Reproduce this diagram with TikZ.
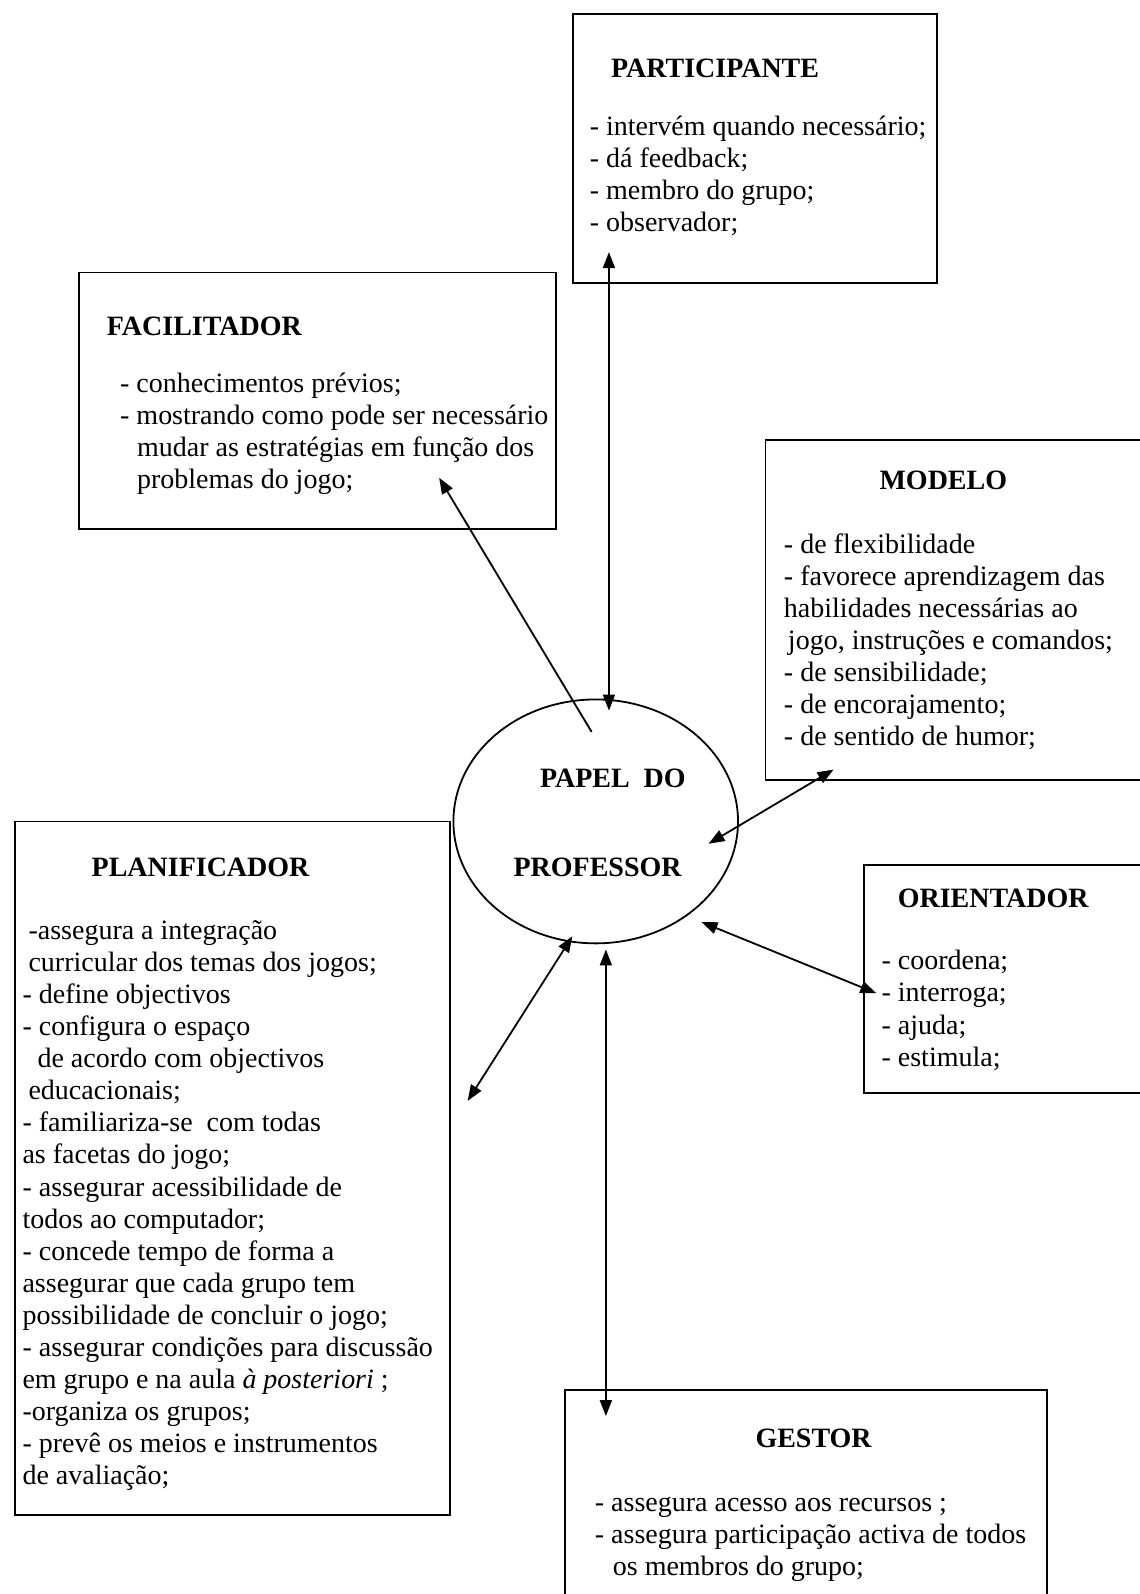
\documentclass[tikz,border=0pt]{standalone}
\usepackage{fontspec}
\setmainfont{Liberation Serif}
\usetikzlibrary{shapes.geometric, arrows.meta, fit}

% stacked text lines sharing one baseline grid; the node's baseline is the first line's
\newcommand\linesof[1]{\vtop{\baselineskip=32.1pt\lineskiplimit=-100pt\lineskip=0pt\halign{##\hfil\cr#1\crcr}}}

\begin{document}
\begin{tikzpicture}[x=1.016949pt, y=-1.016949pt,
  frame/.style={draw, line width=1.8pt, inner sep=0pt},
  title/.style={anchor=base west, inner sep=0pt, font=\fontsize{28pt}{32.1pt}\selectfont\bfseries},
  items/.style={anchor=base west, inner sep=0pt, font=\fontsize{28pt}{32.1pt}\selectfont},
  tip/.tip={Triangle[length=16pt,width=12pt]},
  link/.style={line width=1.8pt, -tip},
  link2/.style={line width=1.8pt, tip-tip},
]
\useasboundingbox[fill=white] (0,0) rectangle (1121,1568);

% central role
\node[ellipse, draw, line width=1.8pt, minimum width=284.7pt, minimum height=244pt, inner sep=0pt] (prof) at (586,808) {};
\node[title] (proft1) at (531,775) {PAPEL\ \ DO};
\node[title] (proft2) at (505,862) {PROFESSOR};

% PARTICIPANTE
\node[frame, fit={(564,14) (922,278)}] (partbox) {};
\node[title] (parttitle) at (601,76) {PARTICIPANTE};
\node[items] (partitems) at (580,133) {\linesof{- intervém quando necessário;\cr
 - dá feedback;\cr
 - membro do grupo;\cr
 - observador;}};

% FACILITADOR
\node[frame, fit={(78,268) (547,520)}] (facbox) {};
\node[title] (factitle) at (105,330) {FACILITADOR};
\node[items] (facitems) at (118,386) {\linesof{- conhecimentos prévios;\cr
 - mostrando como pode ser necessário\cr
 \kern17pt mudar as estratégias em função dos\cr
 \kern17pt problemas do jogo;}};

% MODELO
\node[frame, fit={(753,433) (1135,767)}] (modbox) {};
\node[title] (modtitle) at (865,482) {MODELO};
\node[items] (moditems) at (771,544) {\linesof{- de flexibilidade\cr
 - favorece aprendizagem das\cr
 habilidades necessárias ao\cr
 \kern4pt jogo, instruções e comandos;\cr
 - de sensibilidade;\cr
 - de encorajamento;\cr
 - de sentido de humor;}};

% ORIENTADOR
\node[frame, fit={(850,851) (1135,1075)}] (oribox) {};
\node[title] (orititle) at (883,893) {ORIENTADOR};
\node[items] (oriitems) at (867,954) {\linesof{- coordena;\cr
 - interroga;\cr
 - ajuda;\cr
 - estimula;}};

% PLANIFICADOR
\node[frame, fit={(15,808) (443,1490)}] (plabox) {};
\node[title] (platitle) at (90,862) {PLANIFICADOR};
\node[items] (plaitems) at (22,924) {\linesof{\kern6pt -assegura a integração\cr
 \kern6pt curricular dos temas dos jogos;\cr
 - define objectivos\cr
 - configura o espaço\cr
 \kern15pt de acordo com objectivos\cr
 \kern6pt educacionais;\cr
 - familiariza-se\ \ com todas\cr
 as facetas do jogo;\cr
 - assegurar acessibilidade de\cr
 todos ao computador;\cr
 - concede tempo de forma a\cr
 assegurar que cada grupo tem\cr
 possibilidade de concluir o jogo;\cr
 - assegurar condições para discussão\cr
 em grupo e na aula \textit{à posteriori} ;\cr
 -organiza os grupos;\cr
 - prevê os meios e instrumentos\cr
 de avaliação;}};

% GESTOR
\node[frame, fit={(556,1367) (1030,1590)}] (gesbox) {};
\node[title] (gestitle) at (743,1424) {GESTOR};
\node[items] (gesitems) at (585,1487) {\linesof{- assegura acesso aos recursos ;\cr
 - assegura participação activa de todos\cr
 \kern18pt os membros do grupo;}};

% connector end points
\coordinate (partend) at (599,248);
\coordinate (proftop) at (599,699);
\coordinate (profinner) at (582,720);
\coordinate (facend) at (432,470);
\coordinate (modend) at (820,757);
\coordinate (profright) at (697,830);
\coordinate (profrightlow) at (690,907);
\coordinate (oriend) at (862,977);
\coordinate (profbottomleft) at (563,921);
\coordinate (plaend) at (460,1083);
\coordinate (profbottom) at (596,934);
\coordinate (gesend) at (596,1393);

% connectors
\draw[link2] (partend) -- (proftop);
\draw[link] (profinner) -- (facend);
\draw[link2] (modend) -- (profright);
\draw[link2] (profrightlow) -- (oriend);
\draw[link2] (profbottomleft) -- (plaend);
\draw[link2] (profbottom) -- (gesend);
\end{tikzpicture}
\end{document}
